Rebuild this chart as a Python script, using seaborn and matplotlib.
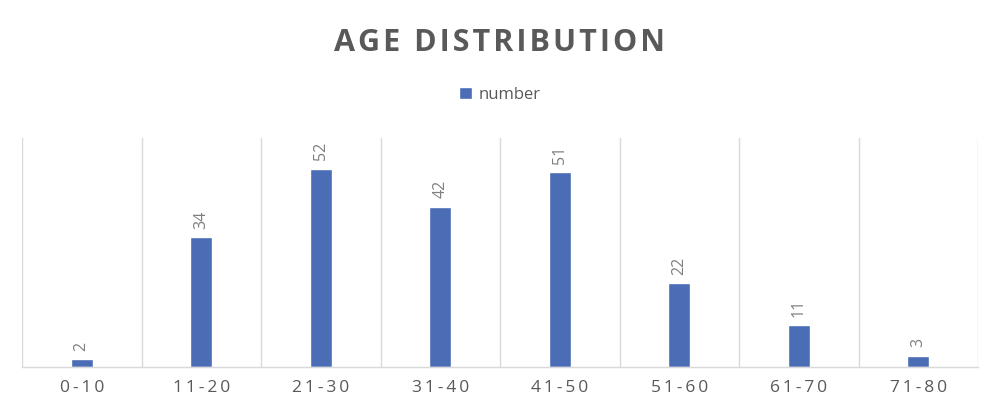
import matplotlib
matplotlib.use("Agg")
import matplotlib.pyplot as plt
import seaborn as sns
import numpy as np
import pandas as pd

categories = ["0-10", "11-20", "21-30", "31-40", "41-50", "51-60", "61-70", "71-80"]
values = [2, 34, 52, 42, 51, 22, 11, 3]
series_name = "number"
title = "AGE DISTRIBUTION"

sns.set_theme(style="white")
plt.rcParams['font.family'] = ['Open Sans', 'DejaVu Sans']

df = pd.DataFrame({"age": categories, series_name: values})

fig = plt.figure(figsize=(10, 4.12), dpi=100)
ax = fig.add_axes([0.022, 0.109, 0.956, 0.556])

bar_color = "#4A6DB5"
sns.barplot(data=df, x="age", y=series_name, color=bar_color, width=0.185,
            saturation=1, ax=ax)

ax.set_ylim(0, 60)
ax.set_xlim(-0.5, len(categories) - 0.5)
ax.set_yticks([])
ax.set_xlabel("")
ax.set_ylabel("")

# category boundary gridlines
ax.set_xticks(np.arange(-0.5, len(categories), 1.0), minor=True)
ax.grid(which="minor", axis="x", color="#d9d9d9", linewidth=1.0)
ax.tick_params(axis="x", which="both", length=0)
ax.set_xticklabels(["\u2009".join(c) for c in categories], color="#595959", fontsize=12.5)
ax.tick_params(axis="x", pad=9)

for s in ["top", "left", "right"]:
    ax.spines[s].set_visible(False)
ax.spines["bottom"].set_color("#d9d9d9")
ax.spines["bottom"].set_linewidth(1.0)

for cont in ax.containers:
    ax.bar_label(cont, labels=[str(v) for v in values], rotation=90, padding=6,
                 color="#7f7f7f", fontsize=11.5)

fig.text(0.5, 0.895, "\u200a".join(title), ha="center", va="center",
         fontsize=22, fontweight="bold", color="#595959")

leg = fig.legend(handles=ax.containers[0][:1], labels=[series_name], loc="center",
                 bbox_to_anchor=(0.5, 0.77), frameon=False, fontsize=12,
                 handlelength=0.8, handleheight=0.8, handletextpad=0.4)
for t in leg.get_texts():
    t.set_color("#595959")

fig.savefig("out.png", dpi=100, facecolor="white")
